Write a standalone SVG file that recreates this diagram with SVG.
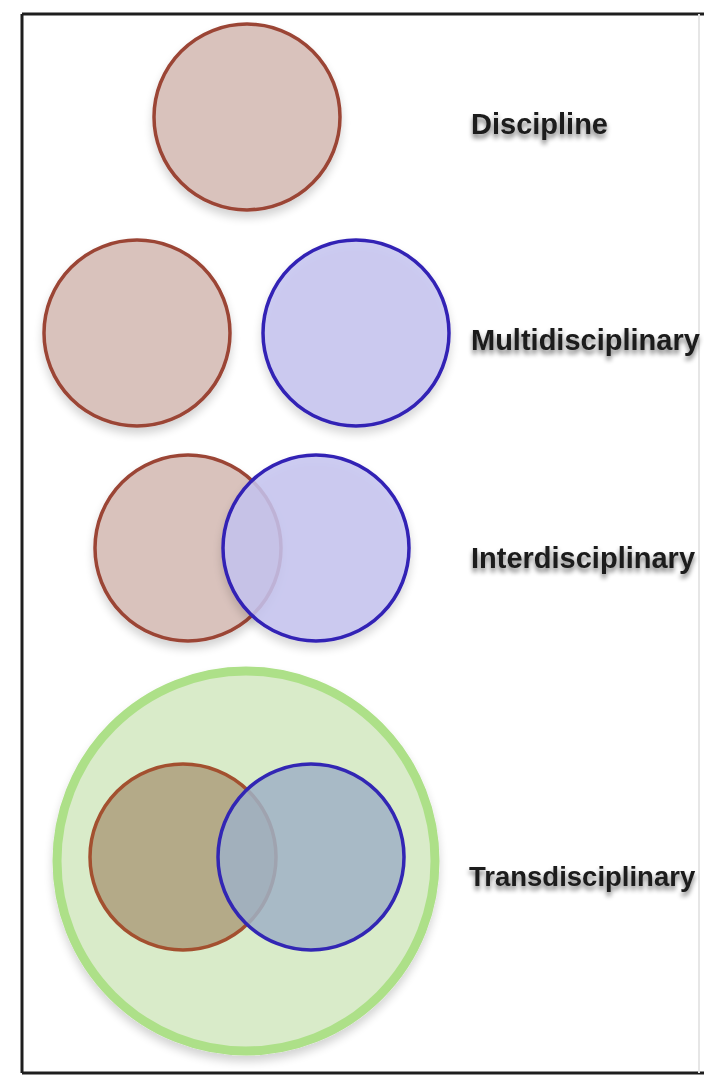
<svg xmlns="http://www.w3.org/2000/svg" width="704" height="1090" viewBox="0 0 704 1090">
<defs>
<filter id="ts" x="-10%" y="-50%" width="120%" height="220%">
<feGaussianBlur in="SourceAlpha" stdDeviation="2.5"/>
<feOffset dy="4" result="b"/>
<feComponentTransfer in="b" result="s"><feFuncA type="linear" slope="0.55"/></feComponentTransfer>
<feMerge><feMergeNode in="s"/><feMergeNode in="SourceGraphic"/></feMerge>
</filter>
<filter id="cs" x="-20%" y="-20%" width="140%" height="150%">
<feGaussianBlur in="SourceAlpha" stdDeviation="5"/>
<feOffset dy="6" result="b"/>
<feComponentTransfer in="b" result="s"><feFuncA type="linear" slope="0.18"/></feComponentTransfer>
<feMerge><feMergeNode in="s"/><feMergeNode in="SourceGraphic"/></feMerge>
</filter>
</defs>
<style>
.lbl{font-family:"Liberation Sans",Arial,sans-serif;font-weight:bold;font-size:29px;fill:#1a1a1a}
.br{fill:#d9c2bc;stroke:#9b4536;stroke-width:3.5}
.bl{fill:#c6c4f0;fill-opacity:0.85;stroke:#3323b5;stroke-width:3.5}
.brt{fill:#b4aa88;stroke:#a3502f;stroke-width:3.5}
.blt{fill:#9fb2c6;fill-opacity:0.85;stroke:#3226b4;stroke-width:3.5}
.gr{fill:#d9ebc9;stroke:#ade088;stroke-width:9}
</style>
<rect width="704" height="1090" fill="#ffffff"/>
<g id="frame">
<line x1="22" y1="14" x2="704" y2="14" stroke="#1e1e1e" stroke-width="3"/>
<line x1="22" y1="14" x2="22" y2="1073" stroke="#1e1e1e" stroke-width="3"/>
<line x1="22" y1="1073" x2="704" y2="1073" stroke="#1e1e1e" stroke-width="3"/>
<line x1="699" y1="14" x2="699" y2="1073" stroke="#e6e6e6" stroke-width="2"/>
</g>
<g id="discipline">
<circle class="br" cx="247" cy="117" r="93" filter="url(#cs)"/>
<text class="lbl" x="471" y="134" filter="url(#ts)">Discipline</text>
</g>
<g id="multidisciplinary">
<circle class="br" cx="137" cy="333" r="93" filter="url(#cs)"/>
<circle class="bl" cx="356" cy="333" r="93" filter="url(#cs)"/>
<text class="lbl" x="471" y="350" filter="url(#ts)">Multidisciplinary</text>
</g>
<g id="interdisciplinary">
<circle class="br" cx="188" cy="548" r="93" filter="url(#cs)"/>
<circle class="bl" cx="316" cy="548" r="93" filter="url(#cs)"/>
<text class="lbl" x="471" y="568" filter="url(#ts)">Interdisciplinary</text>
</g>
<g id="transdisciplinary">
<ellipse class="gr" cx="246" cy="861" rx="189" ry="190" filter="url(#cs)"/>
<circle class="brt" cx="183" cy="857" r="93"/>
<circle class="blt" cx="311" cy="857" r="93"/>
<text class="lbl" x="469" y="886" font-size="27.5" style="font-size:27.5px" filter="url(#ts)">Transdisciplinary</text>
</g>
<g id="connectors"/>
</svg>
